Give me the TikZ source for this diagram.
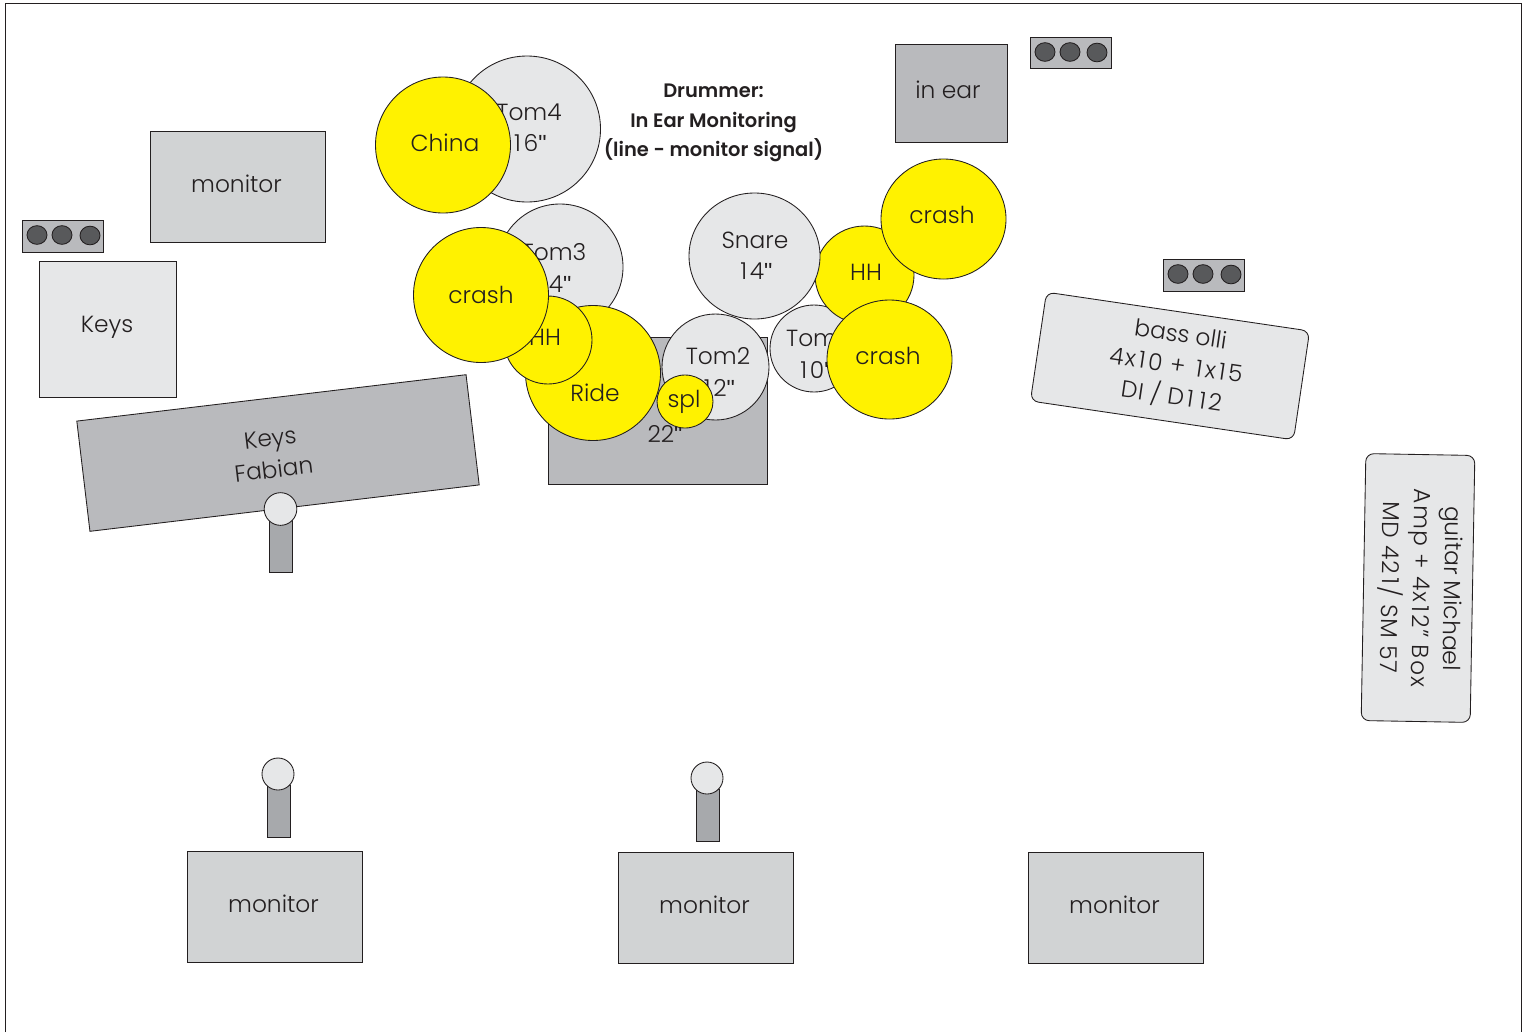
\documentclass[tikz,border=0pt]{standalone}
\usepackage{fontspec}
\setmainfont{Poppins Light}
\newfontfamily\titlefont{Poppins SemiBold}
\newfontfamily\quotefont{Liberation Sans}
\newcommand{\un}{\kern.12em 1\kern.12em}
\newcommand{\qq}{{\quotefont\char34}}
\usetikzlibrary{shapes.geometric}
\definecolor{ink}{HTML}{231F20}
\definecolor{cym}{HTML}{FFF200}
\definecolor{pale}{HTML}{E6E7E8}
\definecolor{midg}{HTML}{D1D3D4}
\definecolor{darkg}{HTML}{B9BABD}
\definecolor{standg}{HTML}{A7A9AC}
\definecolor{dotg}{HTML}{58595B}
\tikzset{
  sz/.style 2 args={minimum width=#1*0.75pt,minimum height=#2*0.75pt},
  outl/.style={draw=ink,line width=0.65pt,inner sep=0pt,outer sep=0pt},
  drum/.style={outl,ellipse,fill=pale},
  cymb/.style={outl,ellipse,fill=cym},
  lbl/.style={text=ink,inner sep=0pt,align=center,font=\fontsize{17.5}{23.5}\selectfont},
  ttl/.style={text=ink,inner sep=0pt,align=center,font=\titlefont\fontsize{14.6}{22}\selectfont},
  dot/.style={outl,ellipse,fill=dotg,minimum width=15pt,minimum height=14pt},
  strip/.style={outl,rectangle,fill=darkg,minimum width=61pt,minimum height=23.5pt},
  mon/.style={outl,rectangle,fill=midg,minimum width=131pt,minimum height=83pt},
}
\begin{document}
\begin{tikzpicture}[x=0.75pt,y=-0.75pt]
\useasboundingbox (0,0) rectangle (1530,1032);
\coordinate (fa) at (5,1032);
\coordinate (fb) at (5,3.5);
\coordinate (fc) at (1521,3.5);
\coordinate (fd) at (1521,1032);
\draw[ink,line width=0.7pt] (fa) -- (fb) -- (fc) -- (fd);

% left area
\node[mon] (monTL) at (238,186.8) {};
\node[lbl] (tMonTL) at (236.5,184) {monitor};
\node[strip] (sL) at (63,236.5) {};
\node[dot] (sL1) at (37,235) {};
\node[dot] (sL2) at (62,235) {};
\node[dot] (sL3) at (90,235.5) {};
\node[outl,fill=pale,sz={137}{136}] (keys) at (107.5,329) {};
\node[lbl] (tKeys) at (107,327) {Keys};
\node[outl,fill=darkg,rotate=6.8,sz={392}{111}] (fab) at (278,453) {};
\node[lbl,rotate=6.8] (tFab) at (272,454) {Keys\\Fabian};
\node[outl,fill=standg,sz={23}{58}] (st1) at (280.5,543) {};
\node[outl,circle,fill=pale,minimum size=24.5pt] (mic1) at (280.5,509) {};

% drums
\node[drum,sz={147}{146}] (tom4) at (527,129) {};
\node[lbl] (tTom4) at (529,128) {Tom4\\\un 6\qq};
\node[cymb,sz={135}{136}] (china) at (443,145) {};
\node[lbl] (tChina) at (445,143) {China};
\node[ttl] (title) at (713.5,123) {Drummer:\\In Ear Monitoring\\(line - monitor signal)};

\node[outl,fill=darkg,sz={219}{147}] (kick) at (657.5,410.5) {};
\node[lbl] (tKick) at (665,434) {22\qq};
\node[drum,sz={126}{126}] (tom3) at (560,267) {};
\node[lbl] (tTom3) at (554,268) {Tom3\\\un 4\qq};
\node[drum,sz={107}{106}] (tom2) at (715.5,367) {};
\node[lbl] (tTom2) at (718,372) {Tom2\\\un 2\qq};
\node[cymb,sz={135}{135}] (ride) at (593,373) {};
\node[lbl] (tRide) at (595,393) {Ride};
\node[cymb,sz={88}{88}] (hhL) at (548,340) {};
\node[lbl] (tHhL) at (545,337) {HH};
\node[cymb,sz={56}{53}] (spl) at (685,401.5) {};
\node[lbl] (tSpl) at (684,402) {spl};
\node[cymb,sz={135}{135}] (crL) at (481,295) {};
\node[lbl] (tCrL) at (481,295) {crash};

\node[drum,sz={88}{87}] (tom1) at (814,348.5) {};
\node[lbl] (tTom1) at (815,354) {Tom1\\\un 0\qq};
\node[cymb,sz={99}{98}] (hhR) at (864.5,275) {};
\node[lbl] (tHhR) at (866,272) {HH};
\node[drum,sz={131}{126}] (snare) at (754.5,256) {};
\node[lbl] (tSnare) at (755,256) {Snare\\\un 4\qq};
\node[cymb,sz={125}{120}] (crT) at (943.5,219) {};
\node[lbl] (tCrT) at (942,215) {crash};
\node[cymb,sz={125}{119}] (crB) at (889.5,359.5) {};
\node[lbl] (tCrB) at (888,356) {crash};

% right area
\node[outl,fill=darkg,sz={112}{98}] (ear) at (951,93) {};
\node[lbl] (tEar) at (948,89.5) {in ear};
\node[strip] (sT) at (1071,53) {};
\node[dot] (sT1) at (1045,52) {};
\node[dot] (sT2) at (1070,52) {};
\node[dot] (sT3) at (1097,52.5) {};
\node[strip] (sR) at (1204,275.5) {};
\node[dot] (sR1) at (1178,274) {};
\node[dot] (sR2) at (1203,274) {};
\node[dot] (sR3) at (1231,274.5) {};
\node[outl,fill=pale,rounded corners=6pt,rotate=-8.4,sz={266}{110}] (bass) at (1170,366) {};
\node[lbl,rotate=-8.4] (tBass) at (1176,366.5) {bass olli\\{\addfontfeature{LetterSpace=6}4x\un 0 + \un x\un 5}\\{\addfontfeature{LetterSpace=3}DI / D\un\un 2}};
\node[outl,fill=pale,rounded corners=6pt,rotate=-91,sz={267}{109}] (guitar) at (1418,588) {};
\node[lbl,rotate=-91] (tGuitar) at (1420,588) {guitar Michael\\{\addfontfeature{LetterSpace=5}Amp + 4x\un 2" Box}\\{\addfontfeature{LetterSpace=4}MD 42\un/ SM 57}};

% bottom
\node[outl,fill=standg,sz={23}{52}] (st2) at (278.5,811) {};
\node[outl,circle,fill=pale,minimum size=24pt] (mic2) at (278,774) {};
\node[outl,fill=standg,sz={23}{52}] (st3) at (707.5,815) {};
\node[outl,circle,fill=pale,minimum size=24pt] (mic3) at (707,778) {};
\node[mon] (monA) at (275,906.8) {};
\node[lbl] (tMonA) at (273.5,904) {monitor};
\node[mon] (monB) at (706,907.8) {};
\node[lbl] (tMonB) at (704.5,905) {monitor};
\node[mon] (monC) at (1116,907.8) {};
\node[lbl] (tMonC) at (1114.5,905) {monitor};
\end{tikzpicture}
\end{document}
